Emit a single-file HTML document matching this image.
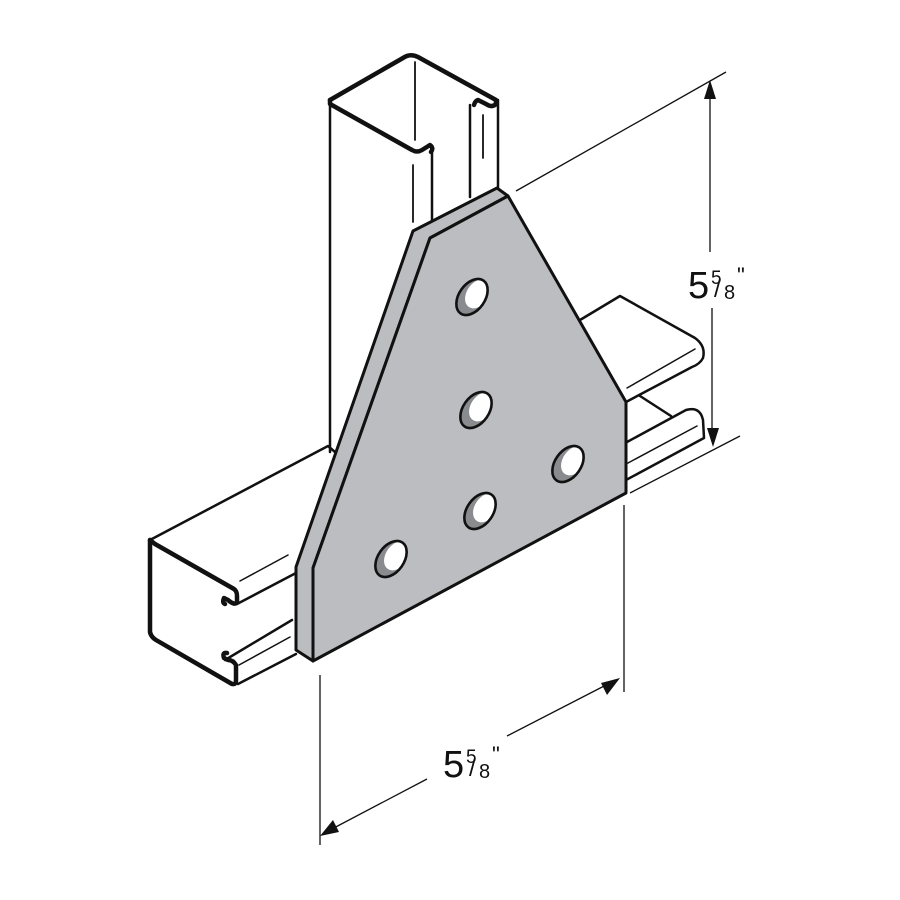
<!DOCTYPE html>
<html><head><style>html,body{margin:0;padding:0;background:#fff}svg{display:block}</style></head>
<body>
<svg width="900" height="900" viewBox="0 0 900 900" xmlns="http://www.w3.org/2000/svg">
<defs>
<clipPath id="hc"><ellipse cx="0" cy="0" rx="13" ry="20"/></clipPath>
<g id="hole">
<ellipse cx="0" cy="0" rx="13" ry="20" fill="#8a8b8e"/>
<ellipse cx="3" cy="-6" rx="11" ry="16" fill="#fff" clip-path="url(#hc)"/>
<ellipse cx="0" cy="0" rx="13" ry="20" fill="none" stroke="#111" stroke-width="2.6"/>
</g>
</defs>
<g fill="none" stroke="#111" stroke-linejoin="round" stroke-linecap="round">
<path d="M330,452 L330,100" stroke-width="2.5"/>
<path d="M330,100 L403,58 Q410,53 418,57 L496,100 L496,104 Q492,108 486,104 L478,100 Q475,101 474,105" stroke-width="4.5"/>
<path d="M330,100 L330,104 L412,150 Q417,153 422,150 L430,145 Q434,148 431,152" stroke-width="4.5"/>
<path d="M415,62 L415,140" stroke-width="1.8"/>
<path d="M432,147 L432,223" stroke-width="2.5"/>
<path d="M413,165 L413,222" stroke-width="1.8"/>
<path d="M470,105 L470,197" stroke-width="2.5"/>
<path d="M498,100 L498,187" stroke-width="2.5"/>
<path d="M483,115 L483,158" stroke-width="1.8"/>
<path d="M150,540 L328,446 L335,452" stroke-width="2.5"/>
<path d="M150,540 L150,632 Q151,637 156,640 L232,684 Q236,685 236,680 L236,665 Q233,660 228,660 L224,658 Q222,652 227,653" stroke-width="4.5"/>
<path d="M150,540 L155,544 L234,589 Q237,591 237,596 L237,602 Q235,606 228,600 L224,598 Q222,603 225,604" stroke-width="4.5"/>
<path d="M237,604 L296,573" stroke-width="2.5"/>
<path d="M240,581 L288,555" stroke-width="1.5"/>
<path d="M225,660 L292,620" stroke-width="2.5"/>
<path d="M239,665 L290,637" stroke-width="1.5"/>
<path d="M238,684 L296,654" stroke-width="2.5"/>
<path d="M580,320 L620,296 L695,338 Q706,346 703,358 Q700,364 692,367 L626,402" stroke-width="2.5"/>
<path d="M627,388 L695,349" stroke-width="1.5"/>
<path d="M640,396 L671,416" stroke-width="2.5"/>
<path d="M627,442 L686,410 Q700,406 703,420 L704,438 L626,480" stroke-width="2.5"/>
<path d="M628,463 L697,426" stroke-width="1.5"/>
</g>
<polygon points="296,567 413,231 497,188 508,196 430,238 313,568 313,661 296,650" fill="#bcbdc0" stroke="#111" stroke-width="3" stroke-linejoin="round"/>
<polygon points="430,238 508,196 626,402 626,493 313,661 313,568" fill="#bcbdc0" stroke="#111" stroke-width="3" stroke-linejoin="round"/>
<use href="#hole" transform="translate(472,297) rotate(35)"/>
<use href="#hole" transform="translate(476,410) rotate(35)"/>
<use href="#hole" transform="translate(568,464) rotate(35)"/>
<use href="#hole" transform="translate(480,511) rotate(35)"/>
<use href="#hole" transform="translate(391,559) rotate(35)"/>
<g stroke="#111" stroke-width="1.3" fill="none">
<path d="M516,191 L726,72"/>
<path d="M630,493 L740,436"/>
<path d="M710,90 L710,252"/>
<path d="M712,308 L712,437"/>
<path d="M320,675 L320,845"/>
<path d="M624,505 L624,692"/>
<path d="M330,830 L427,779"/>
<path d="M507,736 L608,684"/>
</g>
<g fill="#111">
<polygon points="710,80 704,99 716,99"/>
<polygon points="713,447 707,428 719,428"/>
<polygon points="620,678 601,683 607,695"/>
<polygon points="320,836 339,832 333,820"/>
</g>
<g font-family="Liberation Sans, sans-serif" fill="#111">
<text x="688" y="298" font-size="38">5</text>
<text x="711" y="284" font-size="19">5</text>
<text x="714" y="297" font-size="24">/</text>
<text x="724" y="299" font-size="20">8</text>
<text x="737" y="283" font-size="22">"</text>
<text x="443" y="777" font-size="38">5</text>
<text x="466" y="763" font-size="19">5</text>
<text x="469" y="776" font-size="24">/</text>
<text x="479" y="778" font-size="20">8</text>
<text x="492" y="762" font-size="22">"</text>
</g>
</svg>
</body></html>
